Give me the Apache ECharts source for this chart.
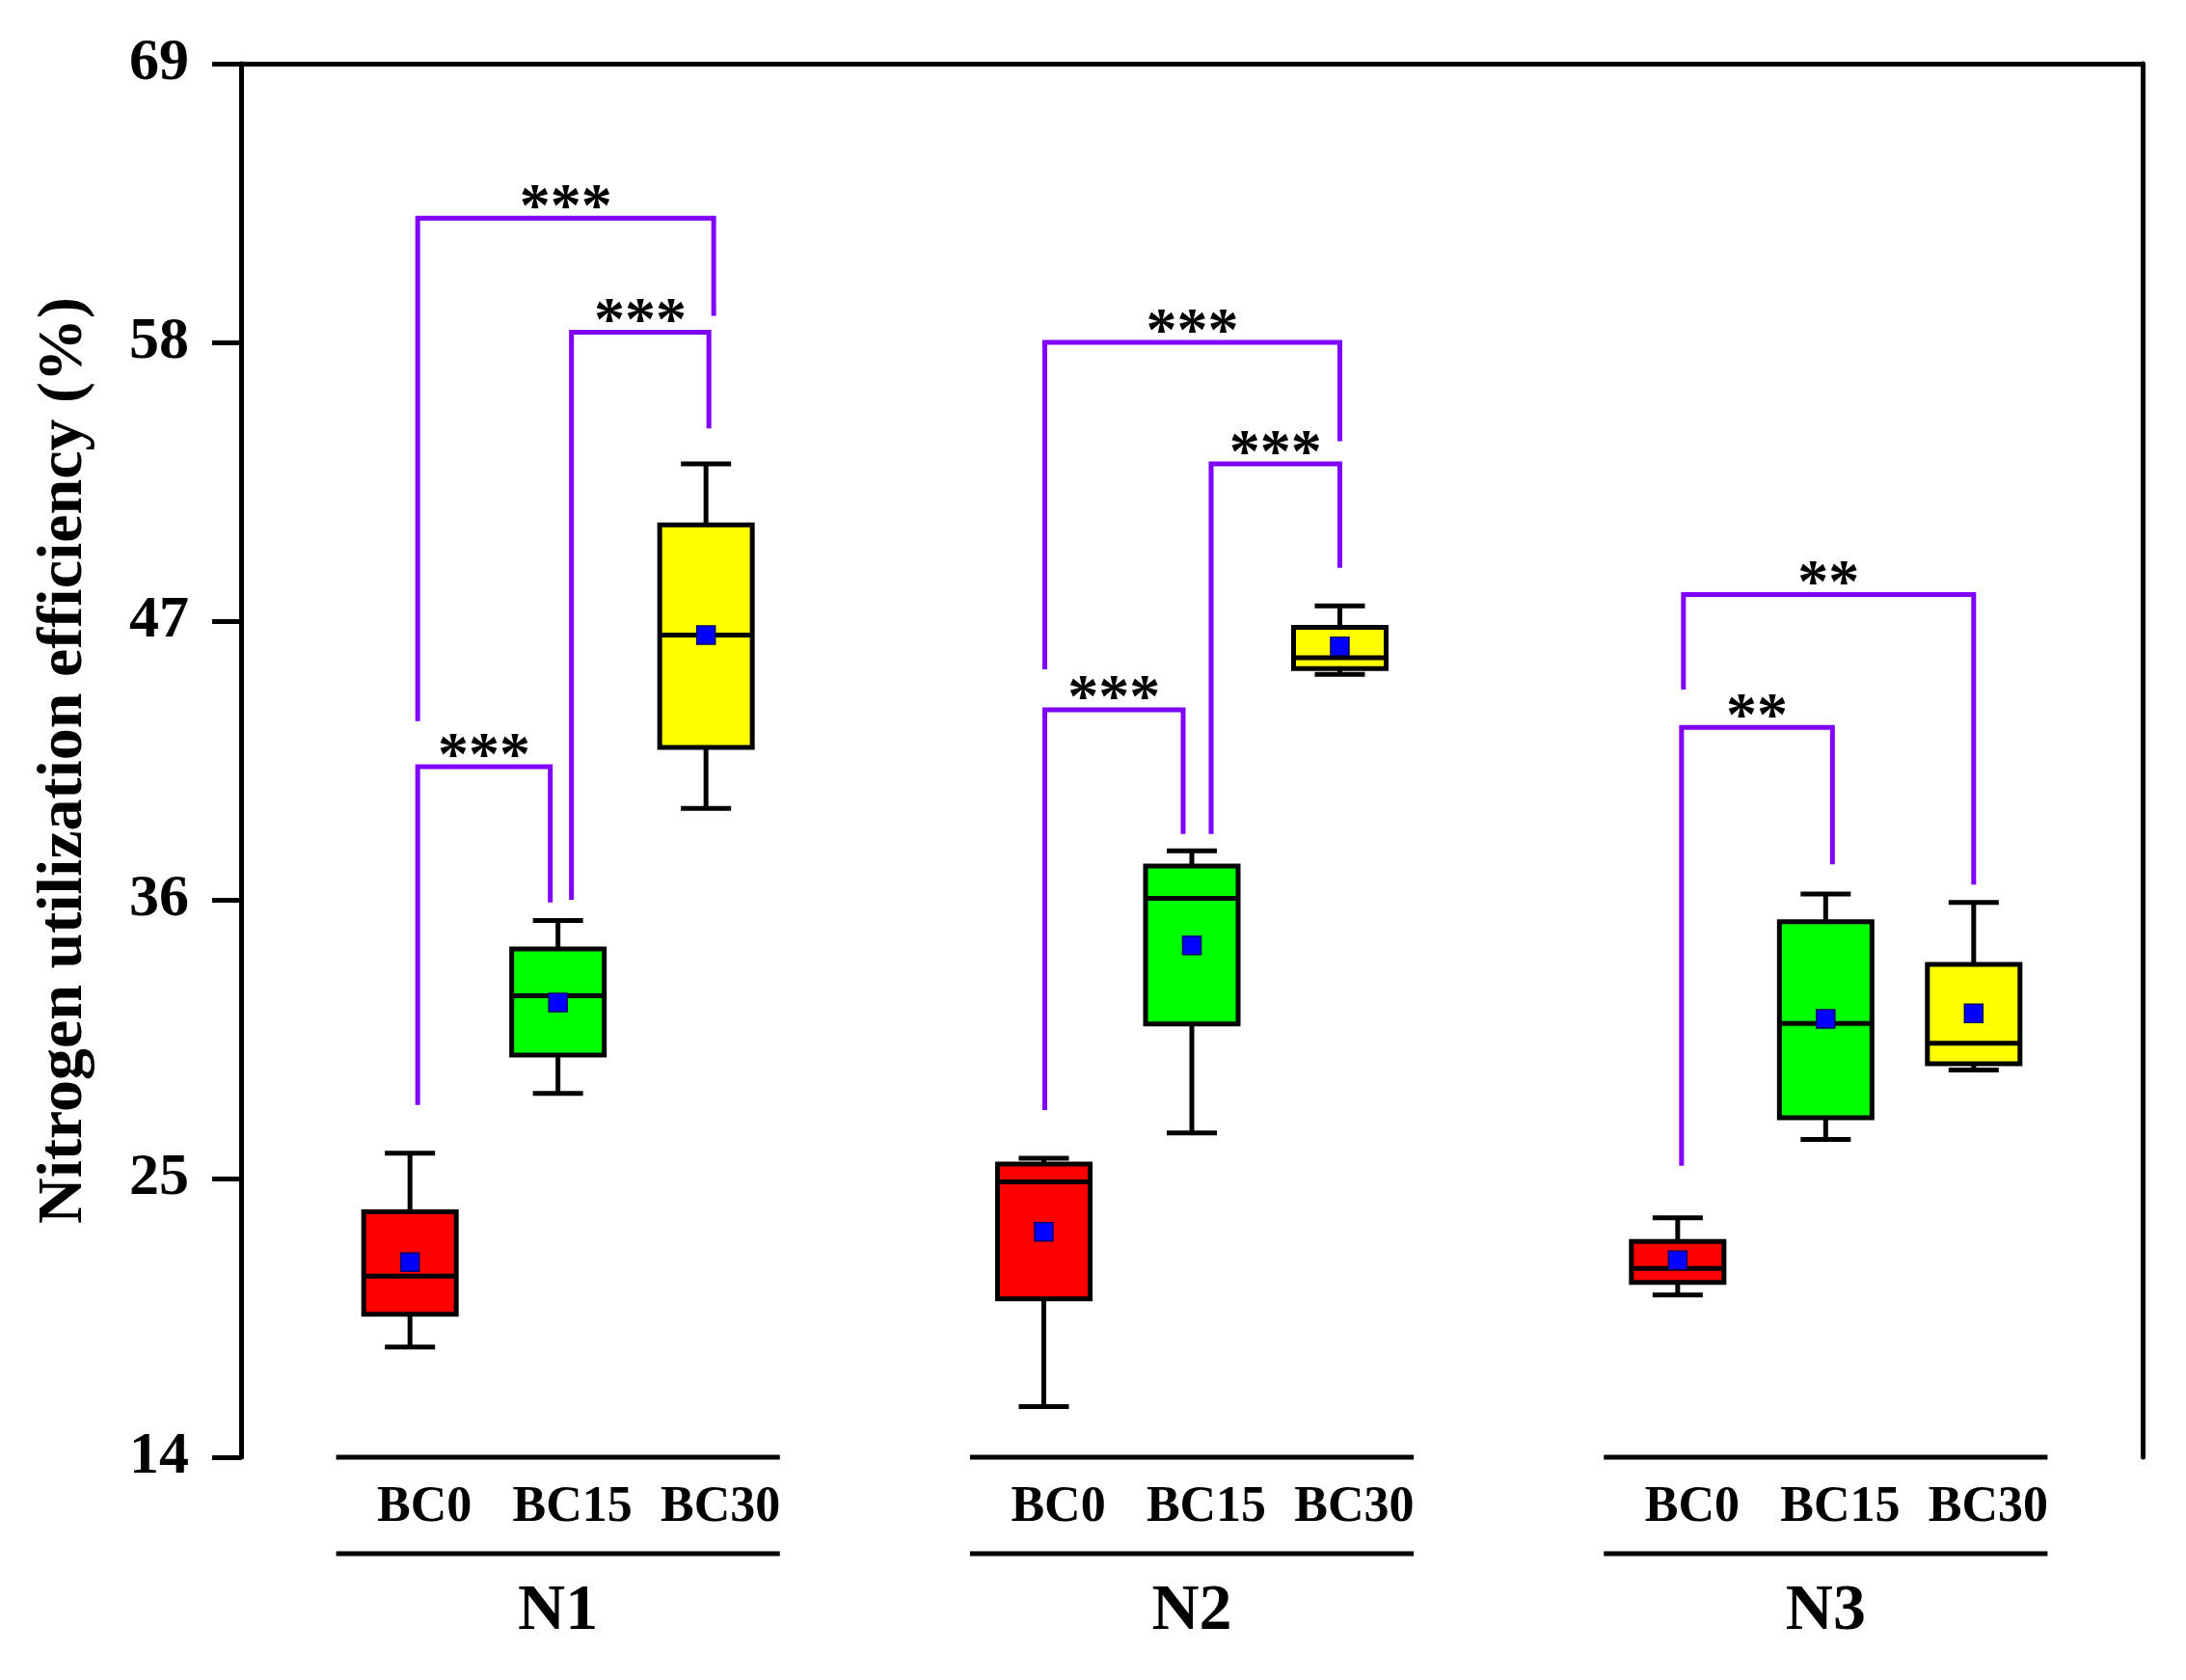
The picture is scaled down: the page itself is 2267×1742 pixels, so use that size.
<!DOCTYPE html>
<html><head><meta charset="utf-8">
<script src="https://cdn.jsdelivr.net/npm/echarts@6/dist/echarts.min.js"></script>
<style>html,body{margin:0;padding:0;background:#fff}#chart{width:2267px;height:1742px}</style>
</head><body><div id="chart"></div>
<script>
// ---------------- data ----------------
const groups = ['N1', 'N2', 'N3'];
const treatments = ['BC0', 'BC15', 'BC30'];
const yTicks = [14, 25, 36, 47, 58, 69];
// five-number summaries per group (N1, N2, N3): [min, Q1, median, Q3, max]
const bc0Box  = [[18.35, 19.64, 21.15, 23.69, 26.0], [16.0, 20.25, 24.87, 25.57, 25.8], [20.4, 20.9, 21.45, 22.52, 23.45]];
const bc15Box = [[28.36, 29.87, 32.21, 34.06, 35.18], [26.8, 31.1, 36.06, 37.33, 37.93], [26.54, 27.4, 31.12, 35.13, 36.23]];
const bc30Box = [[39.61, 42.01, 46.45, 50.8, 53.2], [44.9, 45.13, 45.55, 46.75, 47.6], [29.28, 29.53, 30.34, 33.45, 35.9]];
// means per group
const bc0Mean  = [21.7, 22.9, 21.77];
const bc15Mean = [31.95, 34.2, 31.3];
const bc30Mean = [46.45, 46.0, 31.52];
// significance brackets: [group, from, to, top, fromEnd, toEnd]
const brackets = [
  [0, 0, 2, 62.9, 43.05, 59.05],
  [0, 1, 2, 58.4, 36.0, 54.6],
  [0, 0, 1, 41.25, 27.9, 35.9],
  [1, 0, 2, 58.0, 45.1, 54.1],
  [1, 1, 2, 53.2, 38.6, 49.1],
  [1, 0, 1, 43.5, 27.7, 38.6],
  [2, 0, 2, 48.05, 44.3, 36.6],
  [2, 0, 1, 42.8, 25.5, 37.4]
];
const bracketLabels = ['***', '***', '***', '***', '***', '***', '**', '**'];

// ---------------- layout / style ----------------
const bracketLegShift = [[8, 8], [14, 3], [8, -8], [1, 0], [20, 0], [1, -9], [6, 0], [4, 7]];
const FONT = "'Liberation Serif','Times New Roman',serif";
const BOX_COLORS = ['#ff0000', '#00ff00', '#ffff00'];
const BRACKET_COLOR = '#7f00ff';
const BOX_STEP = 0.2335;
const BOX_W = 96, CAP_W = 52, MEAN_S = 19, LW = 5;
const Y_MIN = 14, Y_MAX = 69;

const boxSets = [bc0Box, bc15Box, bc30Box];
const meanSets = [bc0Mean, bc15Mean, bc30Mean];

function blackLine(x1, y1, x2, y2) {
  return { type: 'line', shape: { x1, y1, x2, y2 }, style: { stroke: '#000', lineWidth: LW } };
}

function boxSeries(t) {
  return {
    type: 'custom', name: treatments[t], clip: false,
    data: groups.map((g, i) => [i].concat(boxSets[t][i], [meanSets[t][i]])),
    encode: { x: 0, y: [1, 2, 3, 4, 5, 6] },
    renderItem: (params, api) => {
      const gi = api.value(0);
      const band = api.size([1, 0])[0];
      const cx = api.coord([gi, Y_MIN])[0] + (t - 1) * BOX_STEP * band;
      const Y = v => api.coord([gi, v])[1];
      const mn = Y(api.value(1)), q1 = Y(api.value(2)), md = Y(api.value(3)),
            q3 = Y(api.value(4)), mx = Y(api.value(5)), me = Y(api.value(6));
      const base = Y(Y_MIN);
      return {
        type: 'group', children: [
          blackLine(cx, mx, cx, q3), blackLine(cx, q1, cx, mn),
          blackLine(cx - CAP_W / 2, mx, cx + CAP_W / 2, mx),
          blackLine(cx - CAP_W / 2, mn, cx + CAP_W / 2, mn),
          { type: 'rect', shape: { x: cx - BOX_W / 2, y: q3, width: BOX_W, height: q1 - q3 },
            style: { fill: BOX_COLORS[t], stroke: '#000', lineWidth: LW } },
          blackLine(cx - BOX_W / 2, md, cx + BOX_W / 2, md),
          { type: 'rect', shape: { x: cx - MEAN_S / 2, y: me - MEAN_S / 2, width: MEAN_S, height: MEAN_S },
            style: { fill: '#0000ff', stroke: '#00006e', lineWidth: 1.5 } },
          { type: 'text', x: cx + 15, y: base + 53,
            style: { text: treatments[t], fontFamily: FONT, fontWeight: 'bold', fontSize: 52,
                     fill: '#000', align: 'center', verticalAlign: 'middle' } }
        ]
      };
    }
  };
}

const bracketSeries = {
  type: 'custom', name: 'sig', clip: false,
  data: brackets,
  encode: { x: 0, y: [3, 4, 5] },
  renderItem: (params, api) => {
    const k = params.dataIndex;
    const gi = api.value(0), a = api.value(1), b = api.value(2);
    const band = api.size([1, 0])[0];
    const c = api.coord([gi, Y_MIN])[0];
    const xa = c + (a - 1) * BOX_STEP * band + bracketLegShift[k][0];
    const xb = c + (b - 1) * BOX_STEP * band + bracketLegShift[k][1];
    const Y = v => api.coord([gi, v])[1];
    const yt = Y(api.value(3)), ya = Y(api.value(4)), yb = Y(api.value(5));
    return {
      type: 'group', children: [
        { type: 'polyline', shape: { points: [[xa, ya], [xa, yt], [xb, yt], [xb, yb]] },
          style: { stroke: BRACKET_COLOR, lineWidth: LW, fill: null } },
        { type: 'text', x: (xa + xb) / 2, y: yt - 9,
          style: { text: bracketLabels[k], fontFamily: FONT, fontWeight: 'bold', fontSize: 64,
                   fill: '#000', align: 'center', verticalAlign: 'middle' } }
      ]
    };
  }
};

const groupFrameSeries = {
  type: 'custom', name: 'frame', clip: false,
  data: groups.map((g, i) => [i, Y_MIN]),
  encode: { x: 0, y: 1 },
  renderItem: (params, api) => {
    const gi = api.value(0);
    const band = api.size([1, 0])[0];
    const p = api.coord([gi, Y_MIN]);
    const half = 0.35 * band;
    return {
      type: 'group', children: [
        blackLine(p[0] - half, p[1], p[0] + half, p[1]),
        blackLine(p[0] - half, p[1] + 100, p[0] + half, p[1] + 100)
      ]
    };
  }
};

const chart = echarts.init(document.getElementById('chart'), null, { renderer: 'canvas' });
chart.setOption({
  backgroundColor: '#fff',
  animation: false,
  grid: { left: 250, right: 45, top: 66, bottom: 231, containLabel: false, outerBoundsMode: 'none' },
  xAxis: [
    { type: 'category', data: groups, position: 'bottom', boundaryGap: true,
      axisLine: { show: false }, axisTick: { show: false }, splitLine: { show: false },
      axisLabel: { fontFamily: FONT, fontWeight: 'bold', fontSize: 68, color: '#000', margin: 126 } },
    { type: 'category', data: groups, position: 'top', boundaryGap: true,
      axisLine: { show: true, lineStyle: { color: '#000', width: LW } },
      axisTick: { show: false }, axisLabel: { show: false }, splitLine: { show: false } }
  ],
  yAxis: [
    { type: 'value', min: Y_MIN, max: Y_MAX, position: 'left',
      name: 'Nitrogen utilization efficiency (%)', nameLocation: 'middle', nameGap: 150,
      nameTextStyle: { fontFamily: FONT, fontWeight: 'bold', fontSize: 66, color: '#000' },
      axisLine: { show: true, lineStyle: { color: '#000', width: LW } },
      axisTick: { show: true, inside: false, length: 30, lineStyle: { color: '#000', width: LW }, customValues: yTicks },
      axisLabel: { fontFamily: FONT, fontWeight: 'bold', fontSize: 62, color: '#000', margin: 54, customValues: yTicks },
      splitLine: { show: false } },
    { type: 'value', min: Y_MIN, max: Y_MAX, position: 'right',
      axisLine: { show: true, lineStyle: { color: '#000', width: LW } },
      axisTick: { show: false }, axisLabel: { show: false }, splitLine: { show: false } }
  ],
  series: [groupFrameSeries, bracketSeries, boxSeries(0), boxSeries(1), boxSeries(2)]
});
</script>
</body></html>
